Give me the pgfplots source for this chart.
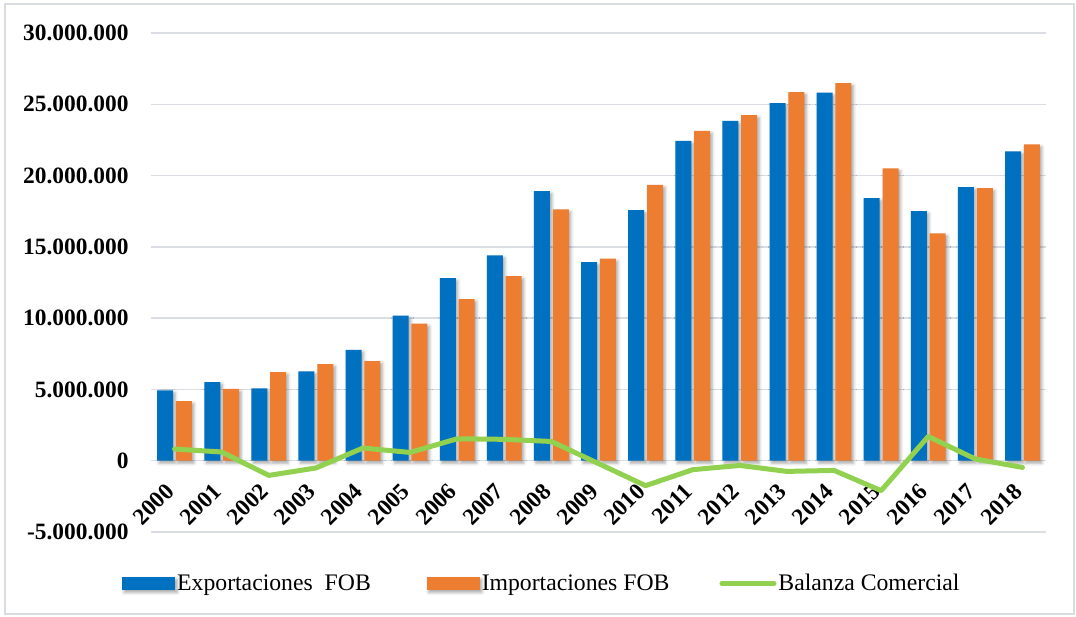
\documentclass[border=0pt]{standalone}
\usepackage{pgfplots}
\pgfplotsset{compat=1.18}
\usepackage{fontspec}
\setmainfont{Liberation Serif}
\usetikzlibrary{shadows.blur}
\definecolor{expblue}{HTML}{0070C0}
\definecolor{imporange}{HTML}{ED7D31}
\definecolor{balgreen}{HTML}{92D050}
\definecolor{gridgray}{HTML}{DADEE4}
\definecolor{framegray}{HTML}{D9DDE3}
\begin{document}
\begin{tikzpicture}
\path[use as bounding box] (0,0) rectangle (1076bp,617bp);
\draw[framegray, line width=1.2bp] (5bp,3bp) rectangle (1074bp,613bp);
\begin{axis}[
  at={(151bp,85bp)}, anchor=south west,
  scale only axis, width=895bp, height=499bp,
  xmin=-0.5, xmax=18.5, ymin=-5000000, ymax=30000000,
  scaled y ticks=false,
  axis line style={draw=none},
  major tick length=0pt,
  ymajorgrids, grid style={gridgray, line width=1.3bp},
  xtick={0,1,2,3,4,5,6,7,8,9,10,11,12,13,14,15,16,17,18},
  xticklabels={2000,2001,2002,2003,2004,2005,2006,2007,2008,2009,2010,2011,2012,2013,2014,2015,2016,2017,2018},
  ytick={-5000000,0,5000000,10000000,15000000,20000000,25000000,30000000},
  yticklabels={-5.000.000,0,5.000.000,10.000.000,15.000.000,20.000.000,25.000.000,30.000.000},
  tick label style={font=\bfseries\fontsize{23.5}{25}\selectfont},
  yticklabel style={anchor=east, xshift=-19bp},
  xticklabel style={xshift=-2bp, yshift=47bp, rotate=45, anchor=east},
  legend style={at={(-0.0324,-0.1032)}, anchor=west, draw=none, fill=none,
    inner sep=0pt, font=\fontsize{23.8}{26}\selectfont,
    /tikz/column 2/.style={column sep=54bp},
    /tikz/column 4/.style={column sep=48bp}},
  legend columns=3, legend cell align=left,
]
\addplot[ybar, bar width=16bp, bar shift=-9.4bp, fill=expblue, draw=none,
  blur shadow={shadow xshift=2bp, shadow yshift=-2.5bp, shadow blur radius=3bp, shadow opacity=35},
  legend image code/.code={\fill[expblue] (0bp,-6.5bp) rectangle (53bp,6.5bp);}]
coordinates {(0,4930000) (1,5520000) (2,5070000) (3,6260000) (4,7780000) (5,10170000) (6,12810000) (7,14400000) (8,18910000) (9,13930000) (10,17580000) (11,22440000) (12,23840000) (13,25080000) (14,25810000) (15,18420000) (16,17510000) (17,19190000) (18,21690000)};
\addlegendentry{Exportaciones\ \ FOB}
\addplot[ybar, bar width=16bp, bar shift=9.4bp, fill=imporange, draw=none,
  blur shadow={shadow xshift=2bp, shadow yshift=-2.5bp, shadow blur radius=3bp, shadow opacity=35},
  legend image code/.code={\fill[imporange] (0bp,-6.5bp) rectangle (53bp,6.5bp);}]
coordinates {(0,4180000) (1,5030000) (2,6220000) (3,6780000) (4,6990000) (5,9610000) (6,11340000) (7,12950000) (8,17620000) (9,14170000) (10,19350000) (11,23140000) (12,24240000) (13,25850000) (14,26490000) (15,20500000) (16,15940000) (17,19120000) (18,22180000)};
\addlegendentry{Importaciones FOB}
\addplot[balgreen, line width=5bp, line join=round, line cap=round, mark=none,
  legend image code/.code={\draw[balgreen, line width=5bp, line cap=round] (2.5bp,0bp) -- (54.5bp,0bp);}]
coordinates {(0,820000) (1,610000) (2,-1030000) (3,-510000) (4,890000) (5,580000) (6,1540000) (7,1500000) (8,1350000) (9,-200000) (10,-1750000) (11,-630000) (12,-330000) (13,-750000) (14,-680000) (15,-2100000) (16,1700000) (17,120000) (18,-470000)};
\addlegendentry{Balanza Comercial}
\end{axis}
\end{tikzpicture}
\end{document}
